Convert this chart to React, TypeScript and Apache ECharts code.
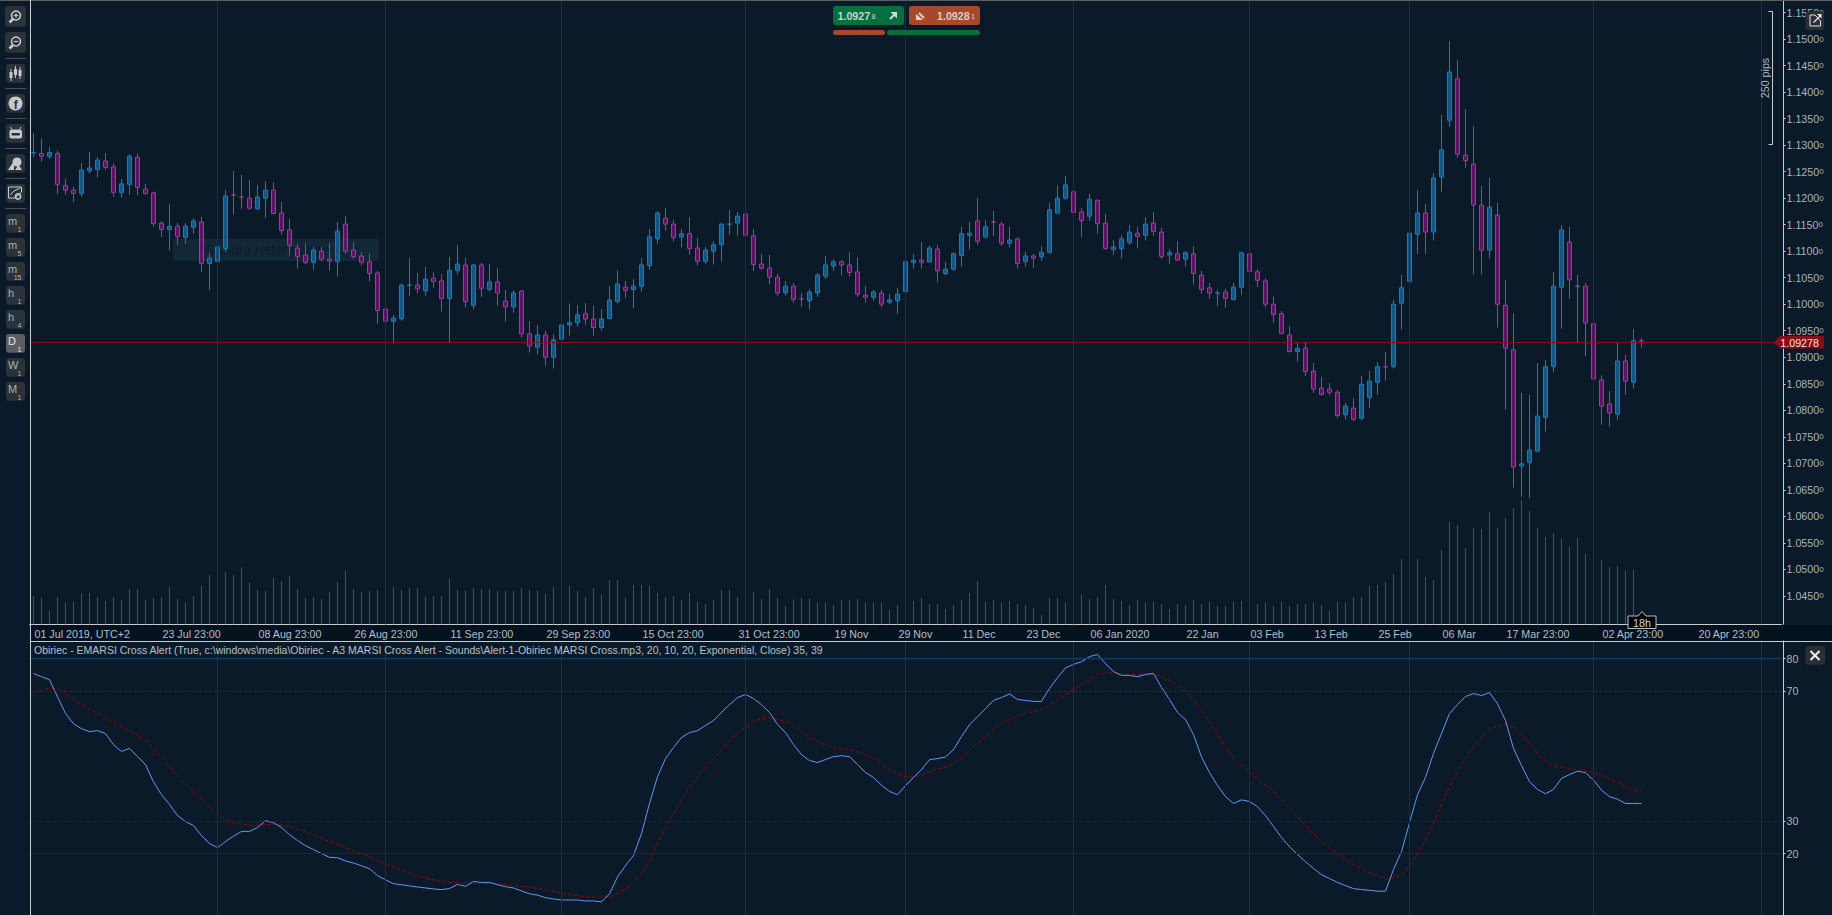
import React, { useEffect, useRef } from "react";
import * as echarts from "echarts";

const opens = [
1.1286,1.1284,1.1279,1.1284,1.1224,1.1215,1.1209,1.1252,1.1254,1.1270,
1.1259,1.1211,1.1226,1.1277,1.1217,1.1210,1.1153,1.1141,1.1147,1.1126,
1.1145,1.1155,1.1077,1.1081,1.1105,1.1206,1.1202,1.1200,1.1180,1.1200,
1.1215,1.1172,1.1140,1.1106,1.1093,1.1079,1.1100,1.1085,1.1081,1.1151,
1.1102,1.1091,1.1080,1.1059,1.0991,1.0968,1.0973,1.1036,1.1036,1.1026,
1.1049,1.1044,1.1011,1.1064,1.1074,1.0998,1.1074,1.1028,1.1042,1.1006,
1.0995,1.1025,1.0944,1.0919,1.0942,1.0900,1.0934,1.0961,1.0965,1.0982,
1.0972,1.0956,1.0973,1.1005,1.1032,1.1028,1.1034,1.1073,1.1124,1.1162,
1.1151,1.1127,1.1133,1.1106,1.1081,1.1100,1.1113,1.1151,1.1153,1.1170,
1.1129,1.1076,1.1068,1.1051,1.1022,1.1034,1.1010,1.1007,1.1022,1.1053,
1.1072,1.1080,1.1074,1.1061,1.1017,1.1013,1.1021,1.1004,1.1007,1.1024,
1.1079,1.1083,1.1080,1.1104,1.1058,1.1066,1.1092,1.1130,1.1157,1.1127,
1.1155,1.1151,1.1115,1.1123,1.1081,1.1091,1.1090,1.1098,1.1172,1.1200,
1.1212,1.1174,1.1166,1.1196,1.1153,1.1103,1.1105,1.1117,1.1134,1.1130,
1.1153,1.1136,1.1093,1.1095,1.1085,1.1095,1.1055,1.1031,1.1021,1.1023,
1.1009,1.1032,1.1095,1.1061,1.1044,1.1000,1.0982,1.0942,1.0911,1.0917,
1.0874,1.0842,1.0840,1.0834,1.0792,1.0804,1.0785,1.0824,1.0853,1.0882,
1.0883,1.1002,1.1043,1.1132,1.1172,1.1136,1.1240,1.1347,1.1425,1.1281,
1.1264,1.1187,1.1102,1.1168,1.0998,1.0914,1.0695,1.0702,1.0723,1.0787,
1.0883,1.1032,1.1117,1.1034,1.1034,1.0963,1.0857,1.0812,1.0793,1.0893,
1.0853,1.0931];

const closes = [
1.12861,1.1279,1.1286,1.1226,1.1215,1.1209,1.1253,1.1257,1.1272,1.1258,
1.1211,1.1227,1.1279,1.1220,1.1209,1.1152,1.1141,1.1147,1.1128,1.1147,
1.1157,1.1077,1.1087,1.1108,1.1204,1.12059,1.12019,1.1181,1.1202,1.1215,
1.1171,1.1139,1.1111,1.1090,1.1079,1.1102,1.1085,1.1081,1.1138,1.1100,
1.1090,1.1079,1.1058,1.0988,1.0968,1.0974,1.1036,1.10361,1.1029,1.1047,
1.1043,1.1011,1.1064,1.1076,1.1005,1.1074,1.1030,1.1042,1.1021,1.0995,
1.1021,1.0944,1.0921,1.0942,1.0900,1.0933,1.0961,1.0965,1.0980,1.0972,
1.0956,1.0972,1.1008,1.1038,1.1026,1.1034,1.1074,1.1127,1.1172,1.1151,
1.1126,1.1133,1.1105,1.1081,1.1102,1.1112,1.1151,1.11511,1.1166,1.1130,
1.1075,1.1068,1.1051,1.1021,1.1034,1.1009,1.10099,1.1023,1.1055,1.1074,
1.1080,1.1074,1.1060,1.1019,1.1013,1.1023,1.1000,1.1008,1.1019,1.1080,
1.1083,1.1079,1.1106,1.1063,1.1066,1.1095,1.1133,1.1134,1.1119,1.1146,
1.11549,1.1115,1.1121,1.1077,1.1091,1.1087,1.1098,1.1178,1.1200,1.1225,
1.1173,1.1158,1.1198,1.1152,1.1105,1.1108,1.1123,1.1136,1.1128,1.1151,
1.1137,1.1090,1.1097,1.1083,1.1097,1.1058,1.1028,1.1021,1.10211,1.1011,
1.1032,1.1097,1.1062,1.1045,1.1000,1.0981,1.0945,1.0911,1.0917,1.0873,
1.0840,1.0830,1.0834,1.0790,1.0808,1.0783,1.0849,1.0855,1.0882,1.08819,
1.1000,1.1031,1.1134,1.1172,1.1136,1.1238,1.1291,1.1438,1.1283,1.1271,
1.1187,1.1102,1.1183,1.1000,1.0917,1.0693,1.0699,1.0725,1.0789,1.0882,
1.1034,1.1140,1.1046,1.10341,1.0965,1.0859,1.0808,1.0795,1.0893,1.0855,
1.0931,1.09309];

const lows = [
1.1277,1.1269,1.1274,1.1208,1.1206,1.1193,1.1203,1.1246,1.1239,1.1254,
1.1203,1.1201,1.1206,1.1205,1.1206,1.1146,1.1127,1.1101,1.1112,1.1114,
1.1133,1.1061,1.1027,1.1071,1.1099,1.1169,1.1180,1.1178,1.1178,1.1163,
1.1170,1.1131,1.1092,1.1067,1.1076,1.1065,1.1080,1.1063,1.1052,1.1095,
1.1086,1.1073,1.1043,1.0963,1.0958,1.0926,1.0969,1.1016,1.1020,1.1016,
1.1031,1.0986,1.0928,1.1056,1.0994,1.0990,1.1014,1.1024,1.0997,1.0967,
1.0984,1.0937,1.0909,1.0905,1.0884,1.0879,1.0905,1.0941,1.0958,1.0961,
1.0941,1.0950,1.0972,1.1001,1.1012,1.0992,1.1024,1.1065,1.1114,1.1139,
1.1118,1.1107,1.1093,1.1073,1.1076,1.1075,1.1080,1.1131,1.1129,1.1126,
1.1063,1.1065,1.1037,1.1016,1.1016,1.1003,1.0995,1.0990,1.1014,1.1048,
1.1063,1.1054,1.1052,1.1014,1.1003,1.1007,1.0994,1.1001,1.0982,1.1003,
1.1067,1.1067,1.1078,1.1041,1.1054,1.1063,1.1071,1.1103,1.1112,1.1124,
1.1129,1.1110,1.1107,1.1067,1.1071,1.1069,1.1082,1.1095,1.1171,1.1197,
1.1163,1.1126,1.1157,1.1133,1.1103,1.1093,1.1086,1.1112,1.1105,1.1120,
1.1129,1.1086,1.1076,1.1082,1.1071,1.1037,1.1020,1.1010,1.0997,1.0994,
1.1007,1.1018,1.1037,1.1033,1.0994,1.0965,1.0943,1.0909,1.0892,1.0865,
1.0833,1.0828,1.0829,1.0786,1.0782,1.0779,1.0782,1.0805,1.0829,1.0856,
1.0879,1.0952,1.1037,1.1095,1.1095,1.1120,1.1212,1.1335,1.1276,1.1257,
1.1056,1.1056,1.1086,1.0956,1.0801,1.0654,1.0637,1.0635,1.0722,1.0760,
1.0871,1.0954,1.1010,1.0927,1.0902,1.0820,1.0773,1.0769,1.0782,1.0829,
1.0841,1.0918];

const highs = [
1.1323,1.1313,1.1297,1.1289,1.1236,1.1221,1.1266,1.1287,1.1277,1.1285,
1.1265,1.1236,1.1283,1.1284,1.1227,1.1212,1.1157,1.1189,1.1153,1.1153,
1.1162,1.1165,1.1097,1.1117,1.1215,1.1251,1.1244,1.1234,1.1225,1.1232,
1.1230,1.1193,1.1161,1.1114,1.1115,1.1108,1.1108,1.1115,1.1155,1.1166,
1.1117,1.1098,1.1095,1.1063,1.0998,1.0980,1.1039,1.1087,1.1059,1.1070,
1.1061,1.1057,1.1089,1.1112,1.1087,1.1076,1.1078,1.1076,1.1068,1.1027,
1.1026,1.1026,1.0968,1.0961,1.0950,1.0944,1.0965,1.1001,1.0998,1.1002,
1.0997,1.0991,1.1034,1.1064,1.1044,1.1047,1.1087,1.1142,1.1175,1.1181,
1.1159,1.1142,1.1164,1.1125,1.1108,1.1119,1.1153,1.1178,1.1174,1.1178,
1.1142,1.1095,1.1093,1.1057,1.1044,1.1040,1.1021,1.1029,1.1059,1.1091,
1.1085,1.1083,1.1098,1.1089,1.1034,1.1027,1.1027,1.1019,1.1031,1.1091,
1.1095,1.1117,1.1110,1.1112,1.1080,1.1098,1.1146,1.1155,1.1200,1.1159,
1.1176,1.1155,1.1146,1.1127,1.1099,1.1095,1.1110,1.1191,1.1224,1.1242,
1.1227,1.1181,1.1208,1.1198,1.1170,1.1121,1.1130,1.1149,1.1146,1.1164,
1.1174,1.1144,1.1104,1.1119,1.1100,1.1110,1.1063,1.1040,1.1027,1.1029,
1.1040,1.1097,1.1095,1.1066,1.1049,1.1015,1.0987,1.0959,1.0927,1.0927,
1.0889,1.0863,1.0851,1.0838,1.0814,1.0823,1.0865,1.0874,1.0891,1.0910,
1.1008,1.1055,1.1187,1.1215,1.1189,1.1247,1.1357,1.1496,1.1460,1.1368,
1.1336,1.1223,1.1238,1.1191,1.1046,1.0983,1.0833,1.0829,1.0889,1.0895,
1.1061,1.1149,1.1146,1.1055,1.1040,1.0970,1.0866,1.0836,1.0929,1.0904,
1.0953,1.0936];

const volumes = [
85,80,40,82,64,67,93,94,82,70,
82,73,106,106,73,79,81,111,76,64,
85,115,148,160,156,148,171,126,103,100,
139,130,145,106,79,82,76,97,127,160,
106,97,100,103,67,111,103,108,108,83,
85,85,136,103,101,108,106,106,100,100,
100,108,103,101,91,111,103,115,100,82,
109,88,133,133,80,118,118,115,94,82,
85,73,94,67,61,73,103,103,82,73,
97,76,106,79,55,74,79,78,64,64,
58,73,73,76,64,64,64,43,58,67,
70,79,61,61,46,58,73,94,130,67,73,
64,70,61,58,49,28,79,79,64,76,
88,76,82,118,76,70,58,73,64,67,
61,46,61,58,73,61,67,55,55,67,
70,70,61,64,55,67,55,61,61,64,
58,40,67,64,82,82,115,118,127,151,
196,211,196,142,133,223,307,298,229,289,
286,337,289,319,349,373,340,289,262,274,
256,232,259,211,214,193,172,175,160,163,
28];

const emaRsi = [
75.4,74.4,73.5,68.2,63.1,59.9,58.4,57.5,57.8,56.9,
53.5,51.4,52.3,49.8,47.4,42.0,38.1,35.1,31.7,29.8,
28.6,25.5,23.1,21.8,23.7,25.3,26.8,26.8,28.0,30.1,
29.5,28.0,25.8,24.0,22.4,21.2,20.0,18.8,18.7,17.7,
17.1,16.2,15.3,13.2,11.9,10.7,10.4,10.0,9.7,9.4,
9.1,8.9,9.2,10.5,9.9,11.4,11.1,11.1,10.4,9.8,
9.4,8.5,7.6,7.2,6.4,6.0,5.7,5.7,5.7,5.4,
5.4,5.1,7.6,12.8,16.3,19.4,26.1,35.4,43.6,49.2,
52.6,55.7,57.2,57.8,59.4,60.9,63.4,65.8,68.0,68.9,
67.7,65.8,63.4,59.7,57.2,53.5,50.4,48.6,48.0,48.9,
49.8,50.1,49.8,47.4,44.9,43.4,41.0,39.1,38.1,40.9,
43.4,45.8,48.9,49.2,49.7,52.0,56.0,59.6,62.1,64.6,
67.1,68.0,69.1,67.4,67.1,66.8,66.8,70.8,74.1,77.1,
78.2,79.0,80.6,81.2,78.4,76.0,74.8,74.8,74.4,75.1,
75.4,71.1,67.4,63.4,61.2,56.6,49.7,44.9,40.9,37.5,
35.4,36.5,36.0,34.4,31.7,28.3,24.9,22.1,19.7,17.5,
15.4,13.5,12.3,11.1,10.1,9.2,8.9,8.7,8.4,8.4,
15.1,20.6,29.5,38.1,43.4,50.8,56.9,63.1,65.8,68.3,
69.2,68.6,69.5,66.1,60.9,52.3,47.1,42.1,39.7,38.4,
39.7,43.1,44.3,45.3,44.9,42.6,39.5,37.5,36.7,35.4,
35.4,35.4];

const signalRsi = [
69.7,70.4,70.9,70.8,69.4,67.5,65.9,64.4,63.2,61.9,
60.4,58.9,57.8,56.4,54.9,52.2,49.4,46.8,43.7,41.2,
39.1,36.7,34.3,32.0,30.5,29.6,29.1,28.7,28.7,28.9,
28.9,28.7,28.2,27.5,26.7,25.8,24.7,23.6,22.8,21.8,
20.9,20.0,19.0,17.9,16.8,15.9,15.0,14.0,13.1,12.5,
11.9,11.4,11.1,11.0,10.8,10.8,10.8,10.8,10.7,10.5,
10.2,9.9,9.7,9.2,8.8,8.4,7.9,7.4,7.0,6.7,
6.6,6.6,6.7,7.7,9.1,11.0,13.8,17.5,23.1,27.7,
32.3,36.6,40.3,43.6,46.4,49.2,51.8,54.7,56.9,58.9,
60.6,61.5,61.7,61.2,60.7,59.5,57.4,55.7,54.4,53.4,
52.8,52.3,51.9,51.3,50.4,49.3,47.6,45.9,44.6,43.6,
43.6,44.1,45.1,46.1,46.6,47.7,49.5,51.8,54.0,56.1,
58.1,60.0,61.2,62.2,63.2,63.6,64.3,65.4,67.2,68.9,
70.2,71.9,73.5,75.1,75.5,75.7,75.3,75.2,75.0,75.0,
75.2,74.5,73.3,71.5,69.8,67.2,63.9,60.7,56.7,52.9,
49.7,47.2,45.0,42.9,41.0,39.2,36.4,33.7,31.3,28.6,
26.0,23.7,21.8,20.0,18.1,16.6,15.5,14.0,13.1,12.0,
12.5,13.5,16.4,20.0,24.1,29.4,35.2,40.5,45.1,49.2,
52.8,55.6,57.9,59.2,59.7,58.6,56.4,53.8,50.8,48.5,
46.9,46.6,46.1,45.7,45.6,44.9,44.0,42.9,41.9,40.5,
39.6,39.0];

const BAND_COUNT = 219;
const tickIndexes = [0,16,28,40,52,64,76,88,100,108,116,124,132,144,152,160,168,176,184,196,208];
const tickLabels = ["01 Jul 2019, UTC+2","23 Jul 23:00","08 Aug 23:00","26 Aug 23:00","11 Sep 23:00","29 Sep 23:00","15 Oct 23:00","31 Oct 23:00","19 Nov","29 Nov","11 Dec","23 Dec","06 Jan 2020","22 Jan","03 Feb","13 Feb","25 Feb","06 Mar","17 Mar 23:00","02 Apr 23:00","20 Apr 23:00"];
const gridIndexes = [23,44,66,89,109,130,152,172,195,216];
const priceTicks = [1.045,1.05,1.055,1.06,1.065,1.07,1.075,1.08,1.085,1.09,1.095,1.1,1.105,1.11,1.115,1.12,1.125,1.13,1.135,1.14,1.145,1.15,1.155];
const rsiTicks = [20,30,70,80];
const lastPrice = 1.09278;
const indicatorTitle = "Obiriec - EMARSI Cross Alert (True, c:\\windows\\media\\Obiriec - A3 MARSI Cross Alert - Sounds\\Alert-1-Obiriec MARSI Cross.mp3, 20, 10, 20, Exponential, Close) 35, 39";
const timeframes: [string, string][] = [["m","1"],["m","5"],["m","15"],["h","1"],["h","4"],["D","1"],["W","1"],["M","1"]];

const FONT = '"Liberation Sans", Arial, sans-serif';
const BG = "#0a1a28";
const AXIS = "#c8ced3";
const LABEL = "#a7b4bf";
const GRIDLINE = "#212c34";
const ICON = "#c4cacf";
const BTN = "#2b3238";

const categories = Array.from({ length: BAND_COUNT }, (_, i) => {
  const k = tickIndexes.indexOf(i);
  return k >= 0 ? tickLabels[k] : "";
});

const verticalLines = gridIndexes.map((x) => ({ xAxis: x, lineStyle: { color: GRIDLINE, width: 1, type: "solid" } }));

const txt = (text: string, x: number, y: number, size: number, fill: string, extra: any = {}) => ({
  type: "text", x, y, z: 100, silent: true,
  style: { text, fill, font: `${extra.weight || "normal"} ${size}px ${FONT}`, textAlign: extra.align || "left", textVerticalAlign: "middle" },
  ...(extra.rotation ? { rotation: extra.rotation } : {}),
  ...(extra.z !== undefined ? { z: extra.z } : {}),
});
const box = (x: number, y: number, w: number, h: number, fill: string, r = 0, z = 100) => ({
  type: "rect", z, silent: true, shape: { x, y, width: w, height: h, r }, style: { fill },
});
const seg = (x1: number, y1: number, x2: number, y2: number, stroke: string, lineWidth = 1, z = 100) => ({
  type: "line", z, silent: true, shape: { x1, y1, x2, y2 }, style: { stroke, lineWidth },
});
const poly = (points: number[][], style: any, z = 100) => ({ type: "polygon", z, silent: true, shape: { points }, style });
const dot = (cx: number, cy: number, r: number, style: any) => ({ type: "circle", z: 100, silent: true, shape: { cx, cy, r }, style });

function buildChrome(): any[] {
  const els: any[] = [];
  // strips & frame
  els.push(box(30, 625, 1802, 16, "#03121f", 0, -1));
  els.push(seg(0, 0.5, 1832, 0.5, "#5a5f63"));
  els.push(seg(30.5, 0, 30.5, 915, AXIS));
  els.push(seg(30, 641.5, 1832, 641.5, AXIS));
  // ghost overlay
  els.push(box(173, 239, 206, 22, "#122839", 0, -2));
  els.push(txt("Cattura rettangolare", 205, 250, 14, "#0c1c2b", { z: -1 }));

  // toolbar
  [6, 32].forEach((y, k) => {
    els.push(box(5, y, 21, 20.7, BTN, 3));
    els.push(dot(16, y + 9.5, 4.5, { fill: "none", stroke: ICON, lineWidth: 1.6 }));
    els.push(seg(13, y + 13, 9.5, y + 16.5, ICON, 2.6));
    els.push(seg(13.8, y + 9.5, 18.2, y + 9.5, ICON, 1.2));
    if (k === 0) els.push(seg(16, y + 7.3, 16, y + 11.7, ICON, 1.2));
  });
  [58.5, 88.5, 118.5, 148.5, 178.5, 208.5].forEach((y) => els.push(seg(5.5, y, 26, y, "#4a4f53")));
  // candle icon
  els.push(box(6, 64, 19, 18.7, BTN, 3));
  [[11, 72, 6], [15.5, 69, 6], [20, 70, 6]].forEach(([x, y, h]) => {
    els.push(seg(x, y - 3, x, y + h + 3, ICON, 1));
    els.push(box(x - 1.5, y, 3, h, ICON));
  });
  // facebook
  els.push(box(6, 94, 19, 18.7, BTN, 3));
  els.push(dot(15.5, 103.4, 7, { fill: ICON }));
  els.push(txt("f", 15.8, 104.6, 12, BTN, { weight: "bold", align: "center" }));
  // robot
  els.push(box(6, 124, 19, 18.7, BTN, 3));
  els.push(box(9.5, 129.5, 12.5, 9, ICON, 2));
  els.push(box(11.5, 133, 8.5, 2.5, BTN, 1));
  els.push(seg(10.5, 127, 12, 129.5, ICON, 1));
  els.push(seg(21, 127, 19.5, 129.5, ICON, 1));
  // shapes
  els.push(box(6, 154, 19, 18.7, BTN, 3));
  els.push(poly([[8, 170], [14, 161], [14, 170]], { fill: ICON }));
  els.push(dot(17, 162, 4.5, { fill: ICON }));
  els.push(poly([[15, 170], [22, 170], [18.5, 165]], { fill: ICON }));
  // chart settings
  els.push(box(6, 184, 19, 18.7, BTN, 3));
  els.push(poly([[8.5, 187], [21.5, 187], [21.5, 192], [15, 198], [8.5, 198]], { fill: "none", stroke: ICON, lineWidth: 1 }));
  els.push(seg(10, 195, 14, 191, ICON, 1));
  els.push(seg(14, 191, 20, 188, ICON, 1));
  els.push(dot(18, 196.5, 2.6, { fill: "none", stroke: ICON, lineWidth: 1.6 }));
  // timeframes
  timeframes.forEach(([a, b], k) => {
    const y = 214 + k * 24;
    const active = a === "D";
    els.push(box(6, y, 19, 18.7, active ? "#5b5f62" : BTN, 3));
    els.push(txt(a, 8, y + 6.5, 11, active ? "#e2e4e6" : "#a9b2ba"));
    els.push(txt(b, 21.5, y + 15.5, 7, active ? "#e2e4e6" : "#a9b2ba", { align: "right" }));
  });

  // trade buttons
  els.push(box(833, 6, 71, 19, "#05703f", 3));
  els.push(box(909, 6, 71, 19, "#a8482a", 3));
  els.push(txt("1.0927", 837.5, 15.5, 10.7, "#c9d3cf", { weight: "bold" }));
  els.push(txt("8", 871.5, 16.5, 7.5, "#c9d3cf"));
  els.push(seg(890, 19, 895, 14, "#d5dbd8", 2));
  els.push(poly([[890.5, 12], [897, 12], [897, 18.5]], { fill: "#d5dbd8" }));
  els.push(seg(919, 13, 924, 18, "#e2d5cf", 2));
  els.push(poly([[916, 14], [916, 20], [923, 20]], { fill: "#e2d5cf" }));
  els.push(txt("1.0928", 937, 15.5, 10.7, "#d8cdc6", { weight: "bold" }));
  els.push(txt("1", 971, 16.5, 7.5, "#d8cdc6"));
  els.push(box(833, 30, 52, 5, "#a8482a", 2.5));
  els.push(box(887, 30, 93, 5, "#076d3c", 2.5));

  // pips ruler
  els.push({ type: "polyline", z: 100, silent: true, shape: { points: [[1768.5, 11.5], [1772.5, 11.5], [1772.5, 144.5], [1768.5, 144.5]] }, style: { stroke: "#c6ccd0", lineWidth: 1, fill: "none" } });
  els.push(txt("250 pips", 1765, 78, 10.7, "#aebbc5", { rotation: Math.PI / 2, align: "center" }));

  // expand icon
  els.push(box(1805.5, 11.5, 18.5, 18.5, "#2a2f33", 3));
  els.push(poly([[1815, 15], [1810, 15], [1810, 26], [1820.5, 26], [1820.5, 21]], { fill: "none", stroke: "#e3e6e8", lineWidth: 1 }));
  els.push(seg(1813.5, 22.5, 1820.5, 15.5, "#e3e6e8", 1.2));
  els.push(poly([[1817, 14], [1821.5, 14], [1821.5, 18.5]], { fill: "#e3e6e8" }));

  // last price tag
  els.push(poly([[1773.5, 342.5], [1780, 336], [1824, 336], [1824, 348.5], [1780, 348.5]], { fill: "#8b0c12" }));
  els.push(txt("1.09278", 1780.3, 342.5, 10.7, "#f2e6e6"));

  // countdown
  els.push(poly([[1628, 616], [1638, 616], [1642, 611.5], [1646, 616], [1656, 616], [1656, 628.5], [1628, 628.5]], { fill: "#000000", stroke: "#b9bec2", lineWidth: 1 }));
  els.push(txt("18h", 1642, 622.5, 10.7, "#cfd4d8", { align: "center" }));

  // indicator title & close
  els.push(txt(indicatorTitle, 34, 650, 10.5, "#b8c1c9"));
  els.push(box(1805.5, 646, 19.5, 18.7, "#2b2f33", 3));
  els.push(seg(1810.5, 651, 1819.5, 660, "#f0f0f0", 2));
  els.push(seg(1819.5, 651, 1810.5, 660, "#f0f0f0", 2));
  return els;
}

export default function App() {
  const ref = useRef<HTMLDivElement>(null);

  useEffect(() => {
    document.body.style.margin = "0";
    document.body.style.background = BG;
    const chart = echarts.init(ref.current as HTMLDivElement, undefined, { renderer: "svg" });
    chart.setOption({
      animation: false,
      backgroundColor: BG,
      textStyle: { fontFamily: FONT },
      grid: [
        { left: 29.5, top: 1, width: 1752, height: 623.3 },
        { left: 29.5, top: 641, width: 1752, height: 274 },
      ],
      xAxis: [
        {
          type: "category", gridIndex: 0, data: categories, boundaryGap: true,
          axisLine: { lineStyle: { color: AXIS, width: 1 } },
          axisTick: { alignWithLabel: true, length: 3, interval: (i: number) => tickIndexes.includes(i), lineStyle: { color: AXIS } },
          axisLabel: {
            interval: (i: number) => tickIndexes.includes(i), align: "left", margin: 4,
            padding: [0, 0, 0, 1], color: "#b4bfc8", fontSize: 10.7, fontFamily: FONT, hideOverlap: false,
          },
          splitLine: { show: false },
        },
        { type: "category", gridIndex: 1, data: categories, show: false, boundaryGap: true },
      ],
      yAxis: [
        {
          type: "value", gridIndex: 0, position: "right", offset: 2, min: 1.03965, max: 1.15717, scale: true,
          axisLine: { show: true, lineStyle: { color: AXIS, width: 1 } },
          axisTick: { show: true, length: 2, customValues: priceTicks, lineStyle: { color: AXIS } },
          axisLabel: {
            customValues: priceTicks, margin: 3, color: LABEL, fontSize: 10.7, fontFamily: FONT,
            formatter: (v: number) => `{a|${v.toFixed(4)}}{b|0}`,
            rich: { a: { color: LABEL, fontSize: 10.7, fontFamily: FONT }, b: { color: LABEL, fontSize: 8, fontFamily: FONT } },
          },
          splitLine: { show: false },
        },
        { type: "value", gridIndex: 0, show: false, min: 0, max: 1870, splitLine: { show: false } },
        {
          type: "value", gridIndex: 1, position: "right", offset: 2, min: 1.077, max: 85.385,
          axisLine: { show: true, lineStyle: { color: AXIS, width: 1 } },
          axisTick: { show: true, length: 2, customValues: rsiTicks, lineStyle: { color: AXIS } },
          axisLabel: { customValues: rsiTicks, margin: 3, padding: [3, 0, 0, 0], color: LABEL, fontSize: 10.7, fontFamily: FONT },
          splitLine: { show: false },
        },
      ],
      series: [
        {
          name: "Volume", type: "bar", xAxisIndex: 0, yAxisIndex: 1, data: volumes, barWidth: 1, z: 1,
          itemStyle: { color: "#0c6490" }, silent: true,
          markLine: { silent: true, symbol: "none", label: { show: false }, data: verticalLines },
        },
        {
          name: "Price", type: "candlestick", xAxisIndex: 0, yAxisIndex: 0, barWidth: 4, z: 3, silent: true,
          data: opens.map((o, i) => [o, closes[i], lows[i], highs[i]]),
          itemStyle: { color: "#0a5a90", color0: "#680e6a", borderColor: "#0a82c2", borderColor0: "#a03a9c", borderWidth: 1 },
          markLine: {
            silent: true, symbol: "none", label: { show: false }, precision: 5,
            data: [{ yAxis: lastPrice, lineStyle: { color: "#8b0c12", width: 1, type: "solid" } }],
          },
        },
        {
          name: "Signal", type: "line", xAxisIndex: 1, yAxisIndex: 2, data: signalRsi, showSymbol: false, z: 3, silent: true,
          lineStyle: { color: "#8c0a0c", width: 1, type: [4, 2] },
          markLine: {
            silent: true, symbol: "none", label: { show: false },
            data: [
              ...verticalLines,
              { yAxis: 80, lineStyle: { color: "#074069", width: 1, type: "solid" } },
              { yAxis: 70, lineStyle: { color: "#0b4169", width: 1, type: [2, 3] } },
              { yAxis: 30, lineStyle: { color: "#7c0c10", width: 1, type: [2, 3] } },
              { yAxis: 20, lineStyle: { color: "#670a0e", width: 1, type: "solid" } },
            ],
          },
        },
        {
          name: "EMARSI", type: "line", xAxisIndex: 1, yAxisIndex: 2, data: emaRsi, showSymbol: false, z: 4, silent: true,
          lineStyle: { color: "#6198f5", width: 1 },
        },
      ],
      graphic: buildChrome(),
    });
    return () => chart.dispose();
  }, []);

  return <div ref={ref} style={{ position: "fixed", left: 0, top: 0, width: 1832, height: 915 }} />;
}
